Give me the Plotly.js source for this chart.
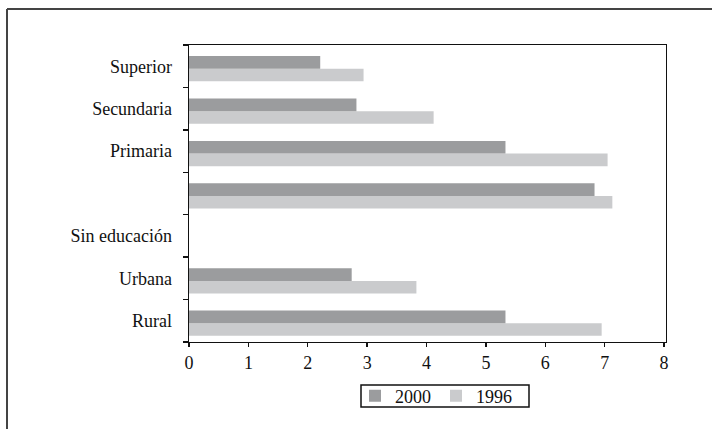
<!DOCTYPE html>
<html>
<head>
<meta charset="utf-8">
<script src="https://cdn.plot.ly/plotly-3.0.1.min.js"></script>
<style>html,body{margin:0;padding:0;background:#fff;}#chart{width:712px;height:429px;}</style>
</head>
<body>
<div id="chart"></div>
<script>
const categories = ["Rural", "Urbana", "Sin educación", "\u00a0", "Primaria", "Secundaria", "Superior"];
const values2000 = [5.33, 2.74, null, 6.83, 5.33, 2.82, 2.21];
const values1996 = [6.95, 3.83, null, 7.13, 7.05, 4.12, 2.94];
const xTicks = [0, 1, 2, 3, 4, 5, 6, 7, 8];

const L = 189, R = 666, T = 45, B = 342, W = 712, H = 429;
const pw = R - L, ph = B - T;
const px = v => (v - L) / pw;
const py = v => (B - v) / ph;

const traces = [
  {type: "bar", orientation: "h", name: "1996", y: categories, x: values1996,
   width: 0.295, offset: -0.355,
   marker: {color: "#cacbcd", line: {width: 0}}, hoverinfo: "x+name"},
  {type: "bar", orientation: "h", name: "2000", y: categories, x: values2000,
   width: 0.3, offset: -0.06,
   marker: {color: "#9b9c9e", line: {width: 0}}, hoverinfo: "x+name"}
];

const font = {family: "Liberation Serif", size: 18, color: "#111"};

const layout = {
  width: W, height: H,
  margin: {l: L, r: W - R, t: T, b: H - B, pad: 0},
  paper_bgcolor: "#fff", plot_bgcolor: "#fff",
  font: font,
  barmode: "overlay",
  showlegend: true,
  legend: {orientation: "h", traceorder: "reversed", x: px(355), xanchor: "left",
           y: py(396), yanchor: "middle", borderwidth: 0,
           font: font, bgcolor: "rgba(0,0,0,0)", itemwidth: 30,
           tracegroupgap: 0},
  xaxis: {range: [0, 8 * pw / 475], tickvals: xTicks, ticktext: xTicks.map(String),
          showgrid: false, zeroline: false, showline: true, mirror: true,
          linecolor: "#111", linewidth: 1.3, ticks: "outside", ticklen: 4,
          tickcolor: "#111", tickwidth: 1.3, tickfont: font, fixedrange: true},
  yaxis: {type: "category", categoryorder: "array", categoryarray: categories,
          range: [-0.5, 6.5], tickson: "boundaries", ticks: "outside", ticklen: 5,
          tickcolor: "#111", tickwidth: 1.3, showgrid: false, zeroline: false,
          showline: true, mirror: true, linecolor: "#111", linewidth: 1.3,
          tickfont: font, ticklabelstandoff: 12, fixedrange: true},
  shapes: [
    {type: "line", xref: "paper", yref: "paper", x0: px(7), x1: px(7), y0: py(9), y1: py(460),
     line: {color: "#444", width: 2}},
    {type: "line", xref: "paper", yref: "paper", x0: px(7), x1: px(730), y0: py(9), y1: py(9),
     line: {color: "#444", width: 2}},
    {type: "rect", xref: "paper", yref: "paper", x0: px(361), x1: px(529), y0: py(385), y1: py(407),
     line: {color: "#111", width: 1.5}, fillcolor: "rgba(0,0,0,0)"}
  ]
};

Plotly.newPlot("chart", traces, layout, {displayModeBar: false, staticPlot: true});
</script>
</body>
</html>
